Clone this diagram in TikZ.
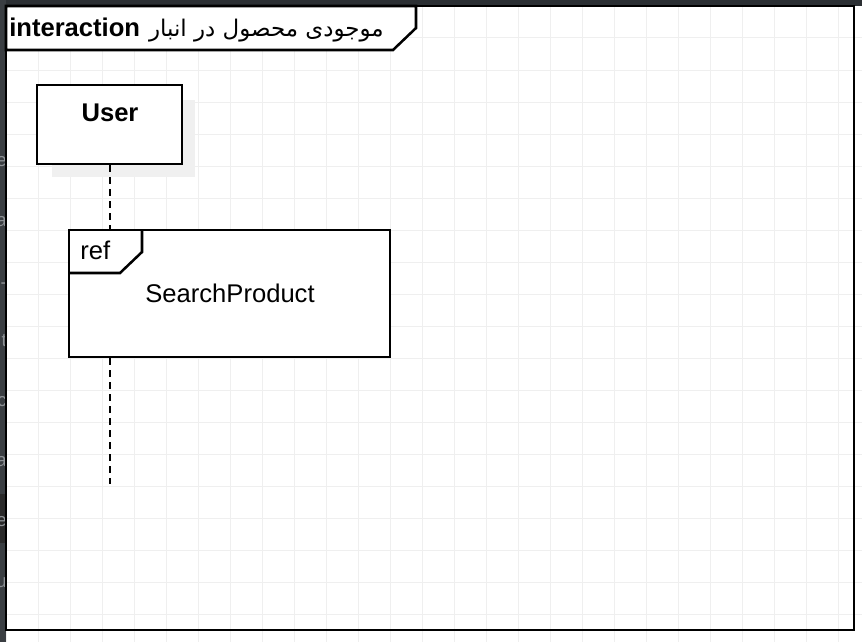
\documentclass[tikz,border=0pt]{standalone}
\usepackage{fontspec}
\setmainfont{Liberation Sans}
\newfontfamily\arabicfont[Script=Arabic]{DejaVu Sans}
\TeXXeTstate=1
\definecolor{gridc}{HTML}{EFEFEF}
\definecolor{stripc}{HTML}{3A3E42}
\definecolor{stripd}{HTML}{2B2F33}
\definecolor{stripband}{HTML}{2A2A2A}
\definecolor{letterc}{HTML}{8E9296}
\definecolor{shadowc}{HTML}{F0F0F0}
\tikzset{
  umlline/.style={line width=1.9pt, draw=black},
  txt/.style={font=\fontsize{19.2}{23}\selectfont, inner sep=0pt},
  btxt/.style={font=\fontsize{19.2}{23}\selectfont\bfseries, inner sep=0pt},
  lifeline/.style={line width=2pt, dash pattern=on 5.25pt off 3.75pt},
  boxnode/.style={umlline, fill=white, inner sep=0pt, rectangle},
  stripletter/.style={font=\fontsize{14}{16}\selectfont, text=letterc, inner sep=0pt, anchor=base east}
}
\begin{document}
\begin{tikzpicture}[x=0.75pt, y=-0.75pt]
\useasboundingbox (0,0) rectangle (862,642);
\fill[white] (0,0) rectangle (862,642);
% grid
\foreach \i in {0,...,26} {
  \draw[gridc, line width=0.75pt] (6+32*\i,0) -- (6+32*\i,642);
}
\foreach \j in {0,...,19} {
  \draw[gridc, line width=0.75pt] (0,6+32*\j) -- (862,6+32*\j);
}
% dark strips
\fill[stripd] (0,0) rectangle (862,6);
\fill[stripc] (0,0) rectangle (6,642);
\fill[stripband] (0,494) rectangle (6,543);
\begin{scope}
  \clip (0,0) rectangle (6,642);
  \node[stripletter] (l1) at (7,166) {e};
  \node[stripletter] (l2) at (7,226) {a};
  \node[stripletter] (l3) at (7,288) {-};
  \node[stripletter] (l4) at (7,346) {t};
  \node[stripletter] (l5) at (7,406) {c};
  \node[stripletter] (l6) at (7,466) {a};
  \node[stripletter] (l7) at (7,526) {e};
  \node[stripletter] (l8) at (7,587) {u};
\end{scope}
% frame
\node[umlline, rectangle, minimum width=636pt, minimum height=468pt, inner sep=0pt] (frame) at (430,318) {};
% title pentagon
\draw[umlline, fill=white] (6,6) -- (416,6) -- (416,28) -- (393,50) -- (6,50) -- cycle;
\node[btxt, anchor=base west] (ttl) at (9,37) {interaction};
\node[txt, anchor=base east, font=\fontsize{17.2}{22}\selectfont] (ttlfa) at (384,37) {\arabicfont\beginR موجودی محصول در انبار\endR};
% lifeline end
\coordinate (lend) at (110,484);
% user shadow and box
\fill[shadowc] (52,100) rectangle (195,177);
\node[boxnode, minimum width=108.75pt, minimum height=59.25pt] (user) at (109.5,124.5) {};
\node[btxt, anchor=base] (userlbl) at (110,121) {User};
\draw[lifeline] (user.south -| 110,0) -- (110,230);
% ref box
\node[boxnode, minimum width=240.75pt, minimum height=95.25pt] (ref) at (229.5,293.5) {};
\draw[umlline] (69,273) -- (120,273) -- (142,252) -- (142,230);
\node[txt, anchor=base west] (reflbl) at (80,259) {ref};
\node[txt, anchor=base] (refname) at (230,302) {SearchProduct};
\draw[lifeline] (ref.south -| 110,0) -- (lend);
\end{tikzpicture}
\end{document}
